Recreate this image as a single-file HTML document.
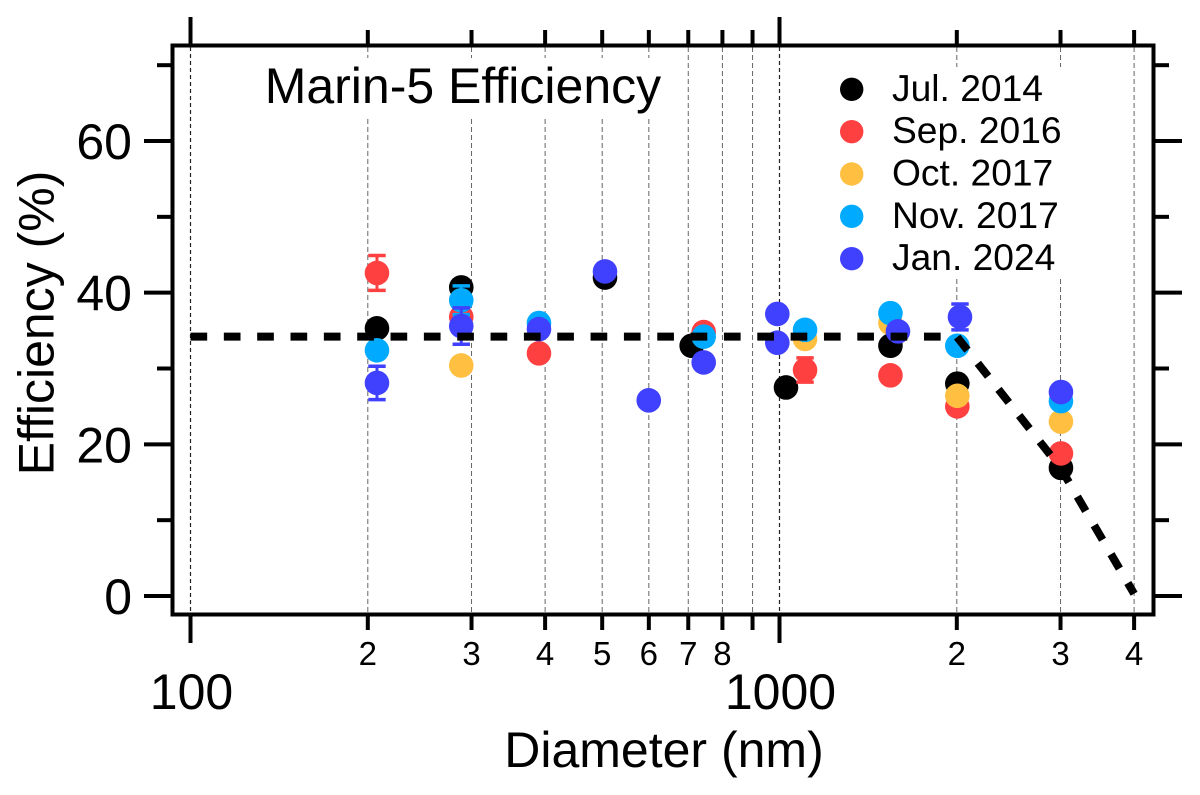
<!DOCTYPE html>
<html lang="en">
<head>
<meta charset="utf-8">
<title>Marin-5 Efficiency</title>
<style>
html,body{margin:0;padding:0;background:#fff;}
svg{display:block;font-family:"Liberation Sans",Arial,sans-serif;}
</style>
</head>
<body>
<svg id="chart" xmlns="http://www.w3.org/2000/svg" width="1200" height="795" viewBox="0 0 1200 795">
  <rect x="0" y="0" width="1200" height="795" fill="#fff"/>
  <g id="grid"></g>
  <rect x="260" y="58" width="405" height="59" fill="#fff"/>
  <rect x="825" y="67" width="250" height="211" fill="#fff"/>
  <g id="series"></g>
  <g id="fit"></g>
  <rect x="172.5" y="45.5" width="981" height="569" fill="none" stroke="#000" stroke-width="4"/>
  <g id="ticks"></g>
  <text x="264.7" y="103" font-size="50" fill="#000">Marin-5 Efficiency</text>
  <g id="legend"></g>
  <text x="664" y="767" font-size="50" text-anchor="middle" fill="#000">Diameter (nm)</text>
  <text x="0" y="0" font-size="50" text-anchor="middle" fill="#000" transform="translate(53.5 323) rotate(-90)">Efficiency (%)</text>
</svg>
<script>
// Data
const seriesNames = ['Jul. 2014', 'Sep. 2016', 'Oct. 2017', 'Nov. 2017', 'Jan. 2024'];
const seriesColors = ['#000000', '#ff4040', '#ffbf40', '#00aaff', '#4040ff'];
const jul2014Diameter = [207.3, 288.2, 505.5, 709.4, 1025.7, 1543, 2004, 3005];
const jul2014Efficiency = [35.3, 40.7, 42.0, 33.0, 27.5, 33.0, 28.0, 16.9];
const jul2014Error = [0, 0, 0, 0, 0, 0, 0, 0];
const sep2016Diameter = [207.3, 288.2, 390.5, 743.5, 1105, 1543, 2004, 3005];
const sep2016Efficiency = [42.6, 36.8, 32.0, 34.8, 29.8, 29.1, 25.0, 18.8];
const sep2016Error = [2.3, 0, 0, 0, 1.6, 0, 0, 0];
const oct2017Diameter = [288.2, 1105, 1543, 2004, 3005];
const oct2017Efficiency = [30.4, 33.9, 36.0, 26.4, 23.0];
const oct2017Error = [0, 0, 0, 0, 0];
const nov2017Diameter = [207.3, 288.2, 390.5, 743.5, 1105, 1543, 2004, 3005];
const nov2017Efficiency = [32.4, 39.0, 36.0, 34.2, 35.1, 37.3, 33.0, 25.7];
const nov2017Error = [0, 1.9, 0, 0, 0, 0, 0, 0];
const jan2024Diameter = [207.3, 288.2, 390.5, 505.5, 599.8, 743.5, 991.5, 991.5, 1589, 2025, 3005];
const jan2024Efficiency = [28.1, 35.6, 35.2, 42.8, 25.8, 30.8, 37.2, 33.4, 34.9, 36.8, 26.9];
const jan2024Error = [2.2, 2.4, 0, 0, 0, 0, 0, 0, 0, 1.7, 0];
const fitDiameter = [100, 2000, 3000, 4000];
const fitEfficiency = [34.2, 34.2, 16.9, 0.3];
const xTickValues = [100, 200, 300, 400, 500, 600, 700, 800, 900, 1000, 2000, 3000, 4000];
const xMajorTicks = [100, 1000];
const xMajorLabels = ['100', '1000'];
const xMinorLabelValues = [200, 300, 400, 500, 600, 700, 800, 2000, 3000, 4000];
const xMinorLabels = ['2', '3', '4', '5', '6', '7', '8', '2', '3', '4'];
const yMajorTicks = [0, 20, 40, 60];
const yMinorTicks = [10, 30, 50, 70];

// Axis functions
function xScale(d) { return 190.5 + 589 * Math.log10(d / 100); }
function yScale(v) { return 596 - 7.583 * v; }

const NS = 'http://www.w3.org/2000/svg';
function make(tag, attrs, parent, text) {
  const el = document.createElementNS(NS, tag);
  for (const k in attrs) el.setAttribute(k, attrs[k]);
  if (text !== undefined) el.textContent = text;
  parent.appendChild(el);
  return el;
}

const grid = document.getElementById('grid');
const ticks = document.getElementById('ticks');
const seriesG = document.getElementById('series');
const fitG = document.getElementById('fit');
const legendG = document.getElementById('legend');

// Grid lines and x ticks
xTickValues.forEach(function (d) {
  const x = xScale(d);
  const isMajor = xMajorTicks.indexOf(d) >= 0;
  const gl = make('line', { x1: x, x2: x, y1: 47, y2: 613, stroke: isMajor ? '#222' : '#666', 'stroke-width': isMajor ? 1.2 : 1, 'stroke-dasharray': isMajor ? '4 3' : '5 3' }, grid);
  
  
  const len = isMajor ? 28 : 15;
  const bt = make('line', { x1: x, x2: x, y1: 615, y2: 615 + len, stroke: '#000', 'stroke-width': 4 }, ticks);
  
  
  const tt = make('line', { x1: x, x2: x, y1: 45, y2: 45 - len, stroke: '#000', 'stroke-width': 4 }, ticks);
  
  
});

// X labels
xMajorTicks.forEach(function (d, i) {
  const t = make('text', { x: xScale(d) + 1, y: 709, 'font-size': 50, 'text-anchor': 'middle', fill: '#000' }, ticks, xMajorLabels[i]);
  
  
});
xMinorLabelValues.forEach(function (d, i) {
  const t = make('text', { x: xScale(d), y: 665, 'font-size': 33, 'text-anchor': 'middle', fill: '#000' }, ticks, xMinorLabels[i]);
  
  
});

// Y ticks
yMajorTicks.forEach(function (v) {
  const y = yScale(v);
  const l = make('line', { x1: 144, x2: 172, y1: y, y2: y, stroke: '#000', 'stroke-width': 4 }, ticks);
  
  
  const r = make('line', { x1: 1154, x2: 1182, y1: y, y2: y, stroke: '#000', 'stroke-width': 4 }, ticks);
  
  
  const t = make('text', { x: 132, y: y + 18, 'font-size': 50, 'text-anchor': 'end', fill: '#000' }, ticks, String(v));
  
  
});
yMinorTicks.forEach(function (v) {
  const y = yScale(v);
  const l = make('line', { x1: 157, x2: 172, y1: y, y2: y, stroke: '#000', 'stroke-width': 4 }, ticks);
  
  
  const r = make('line', { x1: 1154, x2: 1169, y1: y, y2: y, stroke: '#000', 'stroke-width': 4 }, ticks);
  
  
});

// Series
const seriesDiameters = [jul2014Diameter, sep2016Diameter, oct2017Diameter, nov2017Diameter, jan2024Diameter];
const seriesValues = [jul2014Efficiency, sep2016Efficiency, oct2017Efficiency, nov2017Efficiency, jan2024Efficiency];
const seriesErrors = [jul2014Error, sep2016Error, oct2017Error, nov2017Error, jan2024Error];

seriesNames.forEach(function (name, s) {
  const color = seriesColors[s];
  const key = name.toLowerCase().replace(/[^a-z0-9]+/g, '-');
  const g = make('g', {}, seriesG);
  
  
  seriesValues[s].forEach(function (v, i) {
    const x = xScale(seriesDiameters[s][i]);
    const y = yScale(v);
    const err = seriesErrors[s][i];
    if (err > 0) {
      const yTop = yScale(v + err);
      const yBot = yScale(v - err);
      const stem = make('line', { x1: x, x2: x, y1: yTop, y2: yBot, stroke: color, 'stroke-width': 3 }, g);
      
      
      const capT = make('line', { x1: x - 8.7, x2: x + 8.7, y1: yTop, y2: yTop, stroke: color, 'stroke-width': 3.5 }, g);
      
      
      const capB = make('line', { x1: x - 8.7, x2: x + 8.7, y1: yBot, y2: yBot, stroke: color, 'stroke-width': 3.5 }, g);
      
      
    }
    const c = make('circle', { cx: x, cy: y, r: 12.3, fill: color }, g);
    
    
  });
  // Legend entry
  const ly = 89.3 + s * 42.35;
  const lg = make('g', {}, legendG);
  
  
  const lm = make('circle', { cx: 851.7, cy: ly, r: 11.7, fill: color }, lg);
  
  
  const lt = make('text', { x: 892, y: ly + 11.5, 'font-size': 37.2, fill: '#000' }, lg, name);
  
  
});

// Fit line
const fitPoints = fitDiameter.map(function (d, i) { return xScale(d) + ',' + yScale(fitEfficiency[i]); }).join(' ');
const fitLine = make('polyline', { points: fitPoints, fill: 'none', stroke: '#000', 'stroke-width': 8, 'stroke-dasharray': '16.67 16.67', 'stroke-linejoin': 'miter' }, fitG);


</script>
</body>
</html>
